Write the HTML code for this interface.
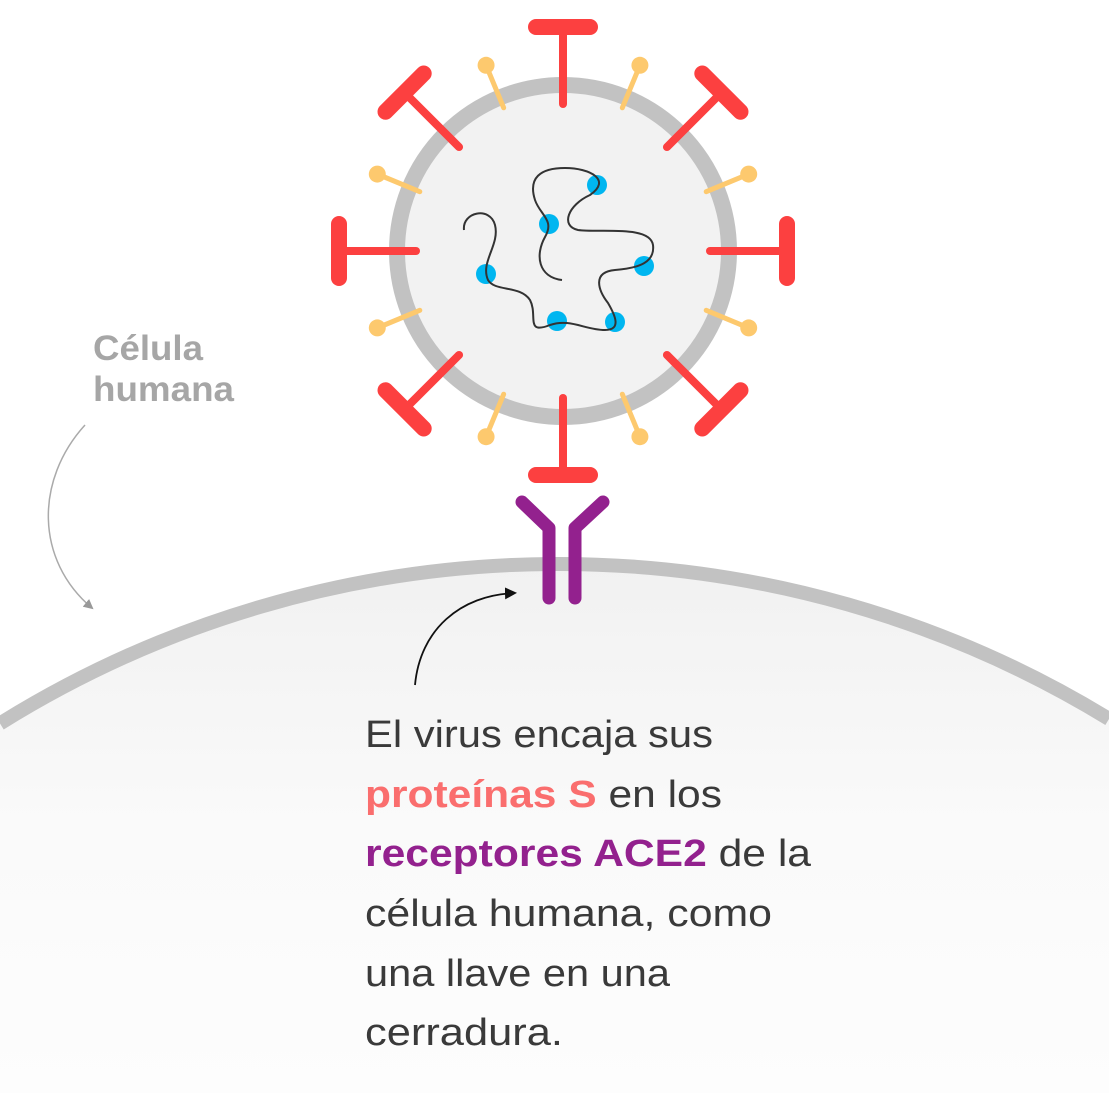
<!DOCTYPE html>
<html><head><meta charset="utf-8"><style>
html,body{margin:0;padding:0;background:#fff;width:1109px;height:1093px;overflow:hidden}
svg{display:block}
text{font-family:"Liberation Sans",sans-serif}
</style></head><body>
<svg width="1109" height="1093" viewBox="0 0 1109 1093" xmlns="http://www.w3.org/2000/svg">
<defs>
<linearGradient id="cg" x1="0" y1="0" x2="0" y2="1">
<stop offset="0" stop-color="#f1f1f1"/><stop offset="0.5" stop-color="#fafafa"/><stop offset="1" stop-color="#fdfdfd"/>
</linearGradient>
<marker id="ag" markerWidth="10" markerHeight="10" refX="8" refY="5" orient="auto" markerUnits="userSpaceOnUse"><path d="M0,0 L10,5 L0,10 z" fill="#999"/></marker>
<marker id="ab" markerWidth="12" markerHeight="12" refX="10" refY="6" orient="auto" markerUnits="userSpaceOnUse"><path d="M0,0 L12,6 L0,12 z" fill="#111"/></marker>
</defs>
<rect width="1109" height="1093" fill="#fff"/>
<path d="M0,723.5 A1056,1056 0 0 1 1109,719 L1109,1093 L0,1093 Z" fill="url(#cg)"/>
<path d="M0,723.5 A1056,1056 0 0 1 1109,719" fill="none" stroke="#c2c2c2" stroke-width="14"/>
<g stroke="#93218e" stroke-width="13" stroke-linecap="round" stroke-linejoin="round" fill="none">
<polyline points="522,502 549,528 549,598"/>
<polyline points="603,502 575,528 575,598"/>
</g>
<g transform="translate(563,251)">
<circle r="166" fill="#f2f2f2" stroke="#c2c2c2" stroke-width="16"/>
<g id="spk">
<line x1="0" y1="-147" x2="0" y2="-222" stroke="#fc4040" stroke-width="8" stroke-linecap="round"/>
<line x1="-27" y1="-224" x2="27" y2="-224" stroke="#fc4040" stroke-width="16" stroke-linecap="round"/>
</g>
<use href="#spk" transform="rotate(45)"/><use href="#spk" transform="rotate(90)"/><use href="#spk" transform="rotate(135)"/>
<use href="#spk" transform="rotate(180)"/><use href="#spk" transform="rotate(225)"/><use href="#spk" transform="rotate(270)"/><use href="#spk" transform="rotate(315)"/>
<g id="pin" transform="rotate(22.5)">
<line x1="0" y1="-155" x2="0" y2="-198" stroke="#fdc96e" stroke-width="5" stroke-linecap="round"/>
<circle cx="0" cy="-201" r="8.5" fill="#fdc96e"/>
</g>
<use href="#pin" transform="rotate(45)"/><use href="#pin" transform="rotate(90)"/><use href="#pin" transform="rotate(135)"/>
<use href="#pin" transform="rotate(180)"/><use href="#pin" transform="rotate(225)"/><use href="#pin" transform="rotate(270)"/><use href="#pin" transform="rotate(315)"/>
</g>
<g fill="#00b6f0">
<circle cx="597" cy="185" r="10"/><circle cx="549" cy="224" r="10"/><circle cx="486" cy="274" r="10"/>
<circle cx="644" cy="266" r="10"/><circle cx="557" cy="321" r="10"/><circle cx="615" cy="322" r="10"/>
</g>
<path d="M464,230 C462,212 490,206 495,225 C500,245 480,262 488,280 C495,292 520,285 530,300 C538,315 525,335 550,325 C570,318 585,330 605,330 C622,330 615,315 608,303 C598,290 592,272 615,270 C640,268 655,262 653,245 C650,225 600,233 578,230 C560,226 568,205 590,195 C612,180 590,168 565,168 C540,168 528,178 535,200 C540,215 555,220 545,237 C535,255 538,277 562,280" fill="none" stroke="#333" stroke-width="2"/>
<path d="M85,425 C35,480 35,560 92,608" fill="none" stroke="#aaa" stroke-width="1.5" marker-end="url(#ag)"/>
<path d="M415,685 C420,630 460,595 515,593" fill="none" stroke="#111" stroke-width="1.8" marker-end="url(#ab)"/>
<text x="93" y="360" font-size="35" font-weight="bold" fill="#a6a6a6" textLength="110" lengthAdjust="spacingAndGlyphs">Célula</text>
<text x="93" y="401" font-size="35" font-weight="bold" fill="#a6a6a6" textLength="141" lengthAdjust="spacingAndGlyphs">humana</text>
<g font-size="38" fill="#3a3a3a">
<text x="365" y="747" textLength="348" lengthAdjust="spacingAndGlyphs">El virus encaja sus</text>
<text x="365" y="807" textLength="357" lengthAdjust="spacingAndGlyphs"><tspan fill="#fa6e6e" font-weight="bold">proteínas S</tspan> en los</text>
<text x="365" y="866" textLength="446" lengthAdjust="spacingAndGlyphs"><tspan fill="#93218e" font-weight="bold">receptores ACE2</tspan> de la</text>
<text x="365" y="926" textLength="407" lengthAdjust="spacingAndGlyphs">célula humana, como</text>
<text x="365" y="986" textLength="305" lengthAdjust="spacingAndGlyphs">una llave en una</text>
<text x="365" y="1045" textLength="198" lengthAdjust="spacingAndGlyphs">cerradura.</text>
</g>
</svg>
</body></html>
